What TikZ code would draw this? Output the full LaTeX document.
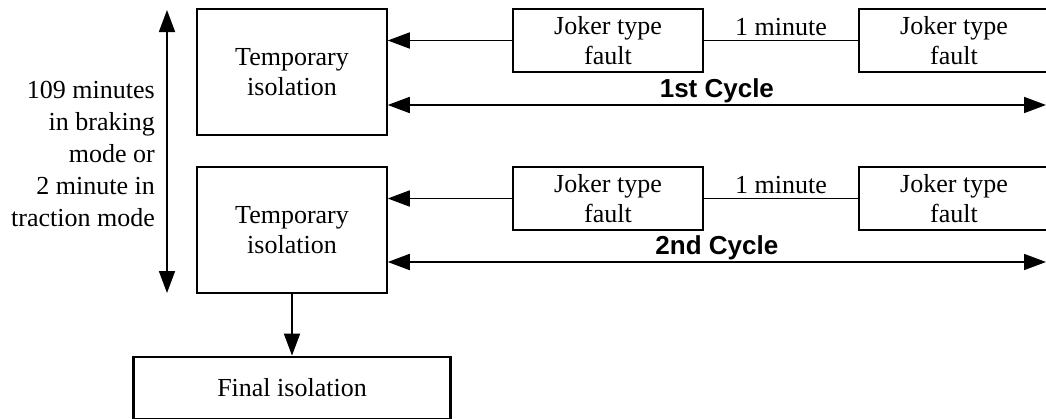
\documentclass[tikz,border=0pt]{standalone}
\usepackage{fontspec}
\setmainfont{Liberation Serif}
\setsansfont{Liberation Sans}
\usetikzlibrary{arrows.meta}
\begin{document}
\begin{tikzpicture}[x=1pt,y=-1pt,
  every node/.style={inner sep=0pt},
  txt/.style={font=\fontsize{26}{30}\selectfont, align=center},
  box/.style={draw, line width=1.5pt, txt},
  tempbox/.style={box, minimum width=190pt, minimum height=126pt},
  jokerbox/.style={box, minimum width=190pt, minimum height=63pt},
  finalbox/.style={draw, line width=2.8pt, txt, minimum width=317pt, minimum height=62pt},
  conn/.style={line width=1.7pt},
  arr/.style={conn, -{Triangle[length=22pt,width=16pt]}},
  darr/.style={conn, {Triangle[length=22pt,width=16pt]}-{Triangle[length=22pt,width=16pt]}},
  cyclelbl/.style={font=\fontsize{26}{30}\selectfont\sffamily\bfseries}
]
\useasboundingbox[fill=white] (0,0) rectangle (1046,418);

% isolation stages
\node[tempbox] (t1) at (292,72) {Temporary\\isolation};
\node[tempbox] (t2) at (292,230) {Temporary\\isolation};
\node[finalbox] (fin) at (292,388) {Final isolation};

% faults of each cycle
\node[jokerbox] (j1) at (608,40.5) {Joker type\\fault};
\node[jokerbox] (j2) at (954,40.5) {Joker type\\fault};
\node[jokerbox] (j3) at (608,198.5) {Joker type\\fault};
\node[jokerbox] (j4) at (954,198.5) {Joker type\\fault};

% first cycle
\draw[arr] (j1.west) -- (j1.west -| t1.east);
\draw[conn] (j2.west) -- node[txt, above=4pt] {1 minute} (j1.east);
\coordinate (c1) at (1046,105);
\draw[darr] (c1 -| t1.east) -- node[cyclelbl, above=1.5pt] {1st Cycle} (c1);

% second cycle
\draw[arr] (j3.west) -- (j3.west -| t2.east);
\draw[conn] (j4.west) -- node[txt, above=4pt] {1 minute} (j3.east);
\coordinate (c2) at (1046,262);
\draw[darr] (c2 -| t2.east) -- node[cyclelbl, above=1.5pt] {2nd Cycle} (c2);

% to final isolation
\draw[arr] (t2.south) -- (fin.north);

% time span between the two temporary isolations
\coordinate (vtop) at (167,10);
\coordinate (vbot) at (167,293);
\draw[darr] (vtop) -- (vbot);
\node[font=\fontsize{26}{32}\selectfont, align=right, anchor=east] (span) at (155,154)
  {109 minutes\\in braking\\mode or\\2 minute in\\traction mode};
\end{tikzpicture}
\end{document}
